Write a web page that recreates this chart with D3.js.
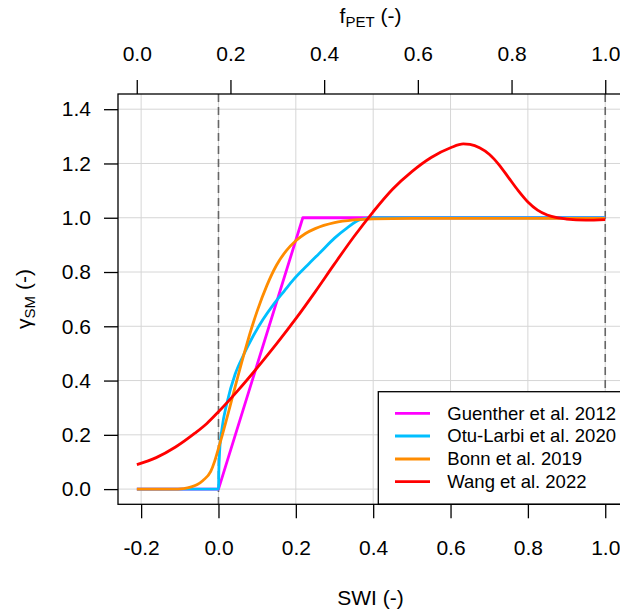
<!DOCTYPE html>
<html>
<head>
<meta charset="utf-8">
<script src="https://cdn.jsdelivr.net/npm/d3@7"></script>
<style>
  html, body { margin: 0; padding: 0; background: #fff; }
  svg { display: block; font-family: "Liberation Sans", Arial, Helvetica, sans-serif; }
</style>
</head>
<body>
<svg id="chart" width="620" height="614"></svg>
<script>
// ---------------- data ----------------
const seriesNames = ["Guenther et al. 2012", "Otu-Larbi et al. 2020", "Bonn et al. 2019", "Wang et al. 2022"];
const seriesColors = ["#ff00ff", "#00bfff", "#ff8c00", "#ff0000"];

const guentherX = [-0.211, 0.0, 0.218, 1.0];
const guentherY = [0, 0, 1, 1];

const otuLarbiX = [-0.211, 0.0, 0.001, 0.003, 0.009, 0.022, 0.043, 0.065, 0.09, 0.115, 0.142, 0.17, 0.194, 0.23, 0.263, 0.3, 0.332, 0.366, 0.4, 0.45, 1.0];
const otuLarbiY = [0, 0, 0.07, 0.14, 0.222, 0.318, 0.423, 0.495, 0.565, 0.625, 0.68, 0.73, 0.772, 0.825, 0.872, 0.925, 0.962, 0.993, 1.0, 1.0, 1.0];

const bonnX = [-0.211, -0.12, -0.09, -0.07, -0.056, -0.04, -0.02, -0.01, 0.0, 0.01, 0.02, 0.03, 0.04, 0.05, 0.06, 0.07, 0.08, 0.09, 0.1, 0.125, 0.15, 0.175, 0.2, 0.225, 0.25, 0.3, 0.35, 0.4, 0.5, 1.0];
const bonnY = [0, 0, 0.002, 0.008, 0.016, 0.032, 0.065, 0.102, 0.15, 0.2, 0.252, 0.306, 0.36, 0.414, 0.467, 0.518, 0.567, 0.613, 0.656, 0.75, 0.825, 0.878, 0.915, 0.942, 0.96, 0.982, 0.992, 0.996, 0.998, 0.998];

const wangX = [-0.211, -0.161, -0.111, -0.061, -0.03, 0.0, 0.05, 0.1, 0.15, 0.2, 0.25, 0.3, 0.35, 0.4, 0.45, 0.5, 0.55, 0.6, 0.633, 0.65, 0.675, 0.7, 0.725, 0.75, 0.775, 0.8, 0.825, 0.85, 0.875, 0.9, 0.95, 1.0];
const wangY = [0.09, 0.116, 0.155, 0.206, 0.242, 0.285, 0.363, 0.447, 0.535, 0.628, 0.727, 0.83, 0.93, 1.022, 1.105, 1.17, 1.222, 1.258, 1.272, 1.27, 1.258, 1.234, 1.196, 1.148, 1.1, 1.058, 1.028, 1.01, 1.0, 0.995, 0.991, 0.993];

const xTicks = [-0.2, 0.0, 0.2, 0.4, 0.6, 0.8, 1.0];
const yTicks = [0.0, 0.2, 0.4, 0.6, 0.8, 1.0, 1.2, 1.4];
const topTicks = [0.0, 0.2, 0.4, 0.6, 0.8, 1.0];
const dashedAt = [0.0, 1.0];
const swiAtFpet0 = -0.2113; // fPET = 0 corresponds to this SWI, fPET = 1 to SWI = 1

// ---------------- layout ----------------
const svg = d3.select("#chart");
const L = 118, R = 624, T = 94, B = 504.3;
const xDom = [-0.2598, 1.0485];
const x = d3.scaleLinear().domain(xDom).range([L, R]);
const y = d3.scaleLinear().domain([-0.056, 1.456]).range([B, T]);
const toF = s => (s - swiAtFpet0) / (1 - swiAtFpet0);
const xTop = d3.scaleLinear().domain([toF(xDom[0]), toF(xDom[1])]).range([L, R]);

const FS = 21;

// grid
const grid = svg.append("g").attr("stroke", "#d6d6d6").attr("stroke-width", 1);
grid.selectAll("line.v").data(xTicks).join("line")
  .attr("x1", d => x(d)).attr("x2", d => x(d)).attr("y1", T).attr("y2", B);
grid.selectAll("line.h").data(yTicks).join("line")
  .attr("y1", d => y(d)).attr("y2", d => y(d)).attr("x1", L).attr("x2", R);

// dashed reference lines
svg.append("g").selectAll("line").data(dashedAt).join("line")
  .attr("x1", d => x(d)).attr("x2", d => x(d)).attr("y1", T).attr("y2", B)
  .attr("stroke", "#666").attr("stroke-width", 1.6).attr("stroke-dasharray", "8,5");

// curves
const series = [
  { xs: guentherX, ys: guentherY, curve: d3.curveLinear },
  { xs: otuLarbiX, ys: otuLarbiY, curve: d3.curveMonotoneX },
  { xs: bonnX, ys: bonnY, curve: d3.curveMonotoneX },
  { xs: wangX, ys: wangY, curve: d3.curveMonotoneX }
];
series.forEach((s, i) => {
  const pts = s.xs.map((v, k) => [v, s.ys[k]]);
  svg.append("path")
    .datum(pts)
    .attr("fill", "none")
    .attr("stroke", seriesColors[i])
    .attr("stroke-width", 2.8)
    .attr("stroke-linejoin", "round")
    .attr("d", d3.line().x(d => x(d[0])).y(d => y(d[1])).curve(s.curve));
});

// axes
const fmt = d => d.toFixed(1);
function styleAxis(g) {
  g.select(".domain").remove();
  g.selectAll(".tick line").attr("stroke", "#000").attr("stroke-width", 1.3);
  g.selectAll(".tick text").attr("fill", "#000").style("font-size", FS + "px")
    .style("font-family", "'Liberation Sans', Arial, sans-serif");
}
svg.append("g").attr("transform", `translate(0,${B})`)
  .call(d3.axisBottom(x).tickValues(xTicks).tickFormat(fmt).tickSize(14).tickPadding(22))
  .call(styleAxis);
svg.append("g").attr("transform", `translate(${L},0)`)
  .call(d3.axisLeft(y).tickValues(yTicks).tickFormat(fmt).tickSize(14).tickPadding(13))
  .call(styleAxis);
svg.append("g").attr("transform", `translate(0,${T})`)
  .call(d3.axisTop(xTop).tickValues(topTicks).tickFormat(fmt).tickSize(14).tickPadding(19))
  .call(styleAxis);

// legend
const lg = svg.append("g");
lg.append("rect").attr("x", 378.3).attr("y", 391.7).attr("width", 260).attr("height", B - 391.7)
  .attr("fill", "#fff").attr("stroke", "#000").attr("stroke-width", 1.3);
const rowY = [413.3, 436, 459, 481.7];
seriesNames.forEach((n, i) => {
  lg.append("line").attr("x1", 395).attr("x2", 430).attr("y1", rowY[i]).attr("y2", rowY[i])
    .attr("stroke", seriesColors[i]).attr("stroke-width", 2.8);
  lg.append("text").attr("x", 447.3).attr("y", rowY[i]).attr("dy", "0.35em")
    .style("font-size", "18.5px").text(n);
});

// box
svg.append("rect").attr("x", L).attr("y", T).attr("width", R - L).attr("height", B - T)
  .attr("fill", "none").attr("stroke", "#000").attr("stroke-width", 1.3);

// titles
svg.append("text").attr("x", 370.5).attr("y", 598).attr("dy", "0.35em")
  .attr("text-anchor", "middle").style("font-size", FS + "px").text("SWI (-)");

const tt = svg.append("text").attr("x", 370.5).attr("y", 23).attr("text-anchor", "middle")
  .style("font-size", FS + "px");
tt.append("tspan").text("f");
tt.append("tspan").attr("dy", 4).style("font-size", "15px").text("PET");
tt.append("tspan").attr("dy", -4).text(" (-)");

const yt = svg.append("text").attr("transform", "translate(31,299) rotate(-90)")
  .attr("text-anchor", "middle").style("font-size", FS + "px");
yt.append("tspan").text("γ");
yt.append("tspan").attr("dy", 4).style("font-size", "15px").text("SM");
yt.append("tspan").attr("dy", -4).text(" (-)");
</script>
</body>
</html>
